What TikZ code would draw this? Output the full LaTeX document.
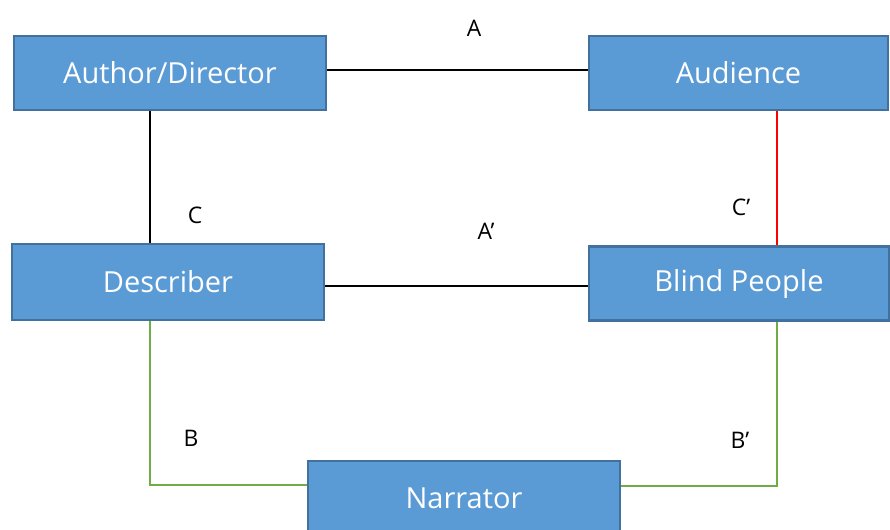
\documentclass[tikz,border=0pt]{standalone}
\usepackage{fontspec}
\setmainfont{Open Sans}
\usepackage{xcolor}
\usetikzlibrary{positioning}

\definecolor{boxfill}{HTML}{5B9BD5}
\definecolor{boxline}{HTML}{41719C}
\definecolor{linkgreen}{HTML}{70AD47}

\begin{document}
\begin{tikzpicture}[
    x=0.02cm, y=-0.02cm,
    role/.style={rectangle, draw=boxline, fill=boxfill, line width=1.2pt, text=white,
        minimum width=6.24cm, minimum height=1.48cm, font=\fontsize{16.5}{20}\selectfont},
    link/.style={line width=1.3pt},
    tag/.style={font=\fontsize{13}{15}\selectfont}
]
    \useasboundingbox (0,0) rectangle (890,529);

    % Roles
    \node (author)   [role] at (170,73)     {Author/Director};
    \node (audience) [role, minimum width=5.98cm] at (738.5,73) {Audience};
    \node (descr)    [role, minimum height=1.52cm] at (168,282) {Describer};
    \node (blind)    [role, minimum width=6cm] at (739,283.5)  {Blind People};
    \node (narrator) [role] at (464,498)    {Narrator};

    % Direct links
    \draw [link] ([yshift=0.06cm]author.east) -- ([yshift=0.06cm]audience.west);
    \draw [link] ([yshift=-0.05cm]descr.east |- blind) -- ([yshift=-0.05cm]blind.west);

    % Vertical links
    \draw [link] ([xshift=-0.4cm]author.south) -- ([xshift=-0.4cm]author.south |- descr.north);
    \draw [link, red] ([xshift=0.77cm]audience.south) -- ([xshift=0.77cm]audience.south |- blind.north);

    % Links through the narrator
    \draw [link, linkgreen] ([xshift=-0.4cm]author.south |- descr.south) |- ([yshift=0.26cm]narrator.west);
    \draw [link, linkgreen] ([xshift=0.77cm]audience.south |- blind.south) |- ([yshift=0.24cm]narrator.east);

    % Labels
    \node (tagA)  [tag] at (474,28)  {A};
    \node (tagA2) [tag] at (486,231) {A’};
    \node (tagC)  [tag] at (195,215) {C};
    \node (tagC2) [tag] at (741,207) {C’};
    \node (tagB)  [tag] at (191,438) {B};
    \node (tagB2) [tag] at (740,440) {B’};

\end{tikzpicture}
\end{document}
